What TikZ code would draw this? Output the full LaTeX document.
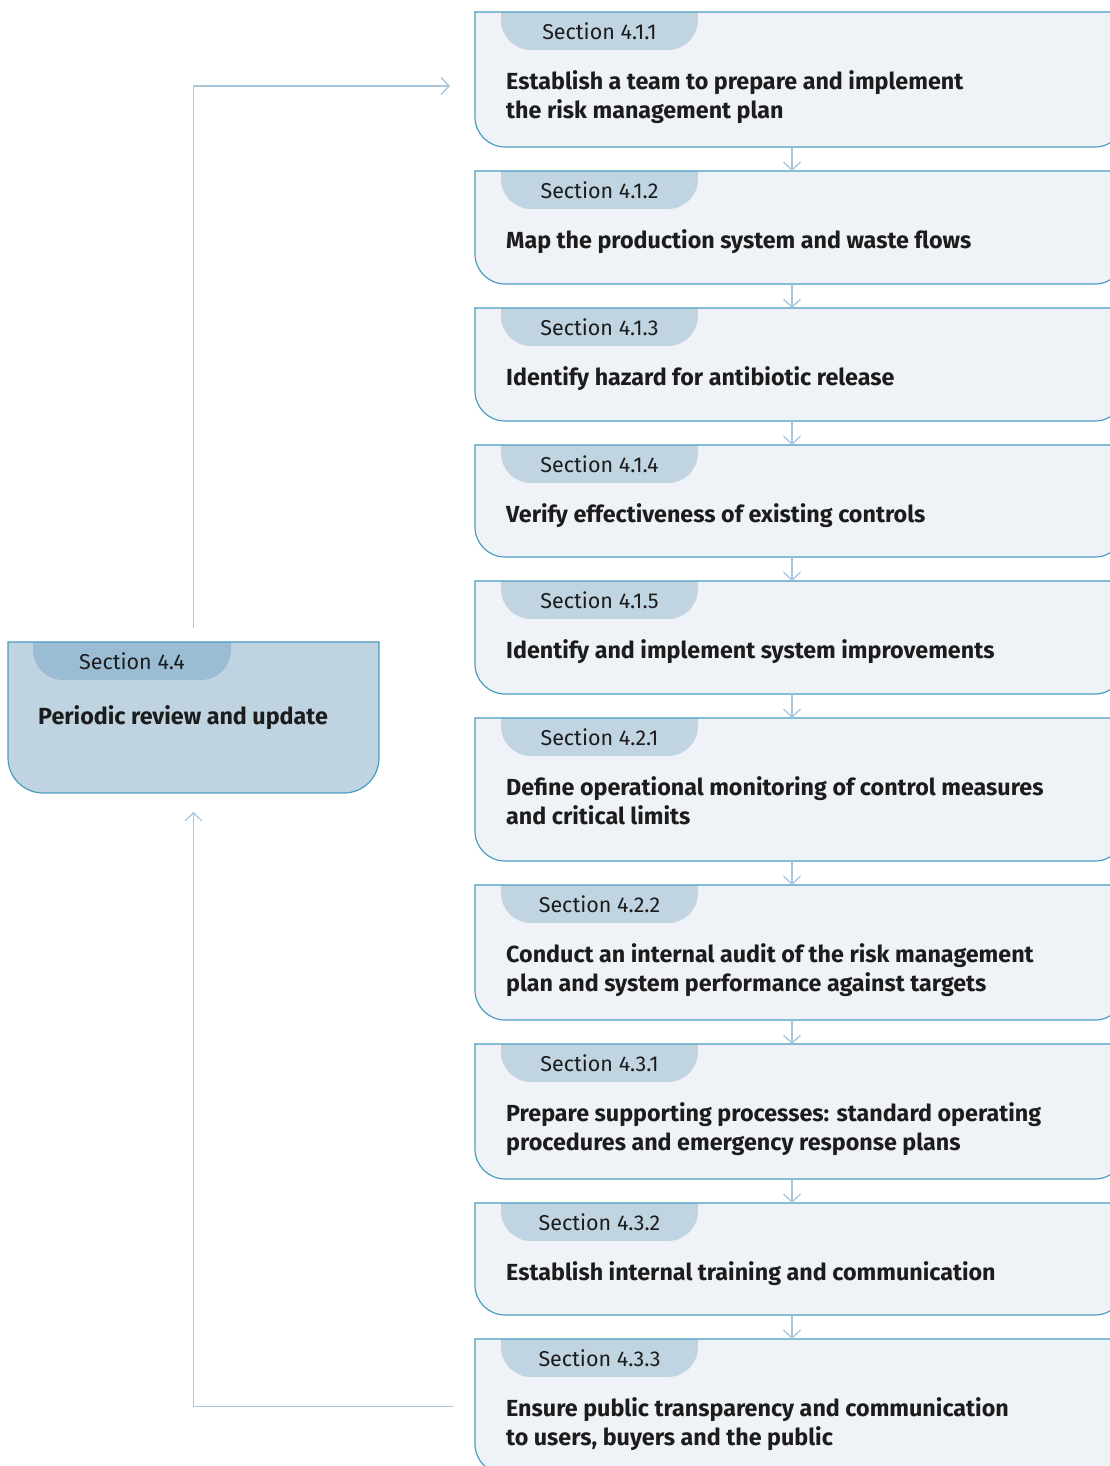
\documentclass[tikz,border=0pt]{standalone}
\usepackage{fontspec}
\setmainfont{Fira Sans}
\usetikzlibrary{calc,arrows.meta}

\definecolor{panelfill}{HTML}{EFF3F7}
\definecolor{panelline}{HTML}{4A9DBF}
\definecolor{tabfill}{HTML}{C0D4E2}
\definecolor{reviewfill}{HTML}{BFD3E1}
\definecolor{reviewtab}{HTML}{9BBDD4}
\definecolor{linkcol}{HTML}{A7C6DC}
\definecolor{ink}{HTML}{1C1C1C}

\tikzset{
  x=1pt, y=1pt,
  holder/.style={inner sep=0pt, outer sep=0pt, minimum width=#1, draw=none},
  outline/.style={draw=panelline, line width=1.2pt},
  sectiontext/.style={font=\fontsize{21.5}{24}\selectfont, text=ink, inner sep=0pt},
  titletext/.style={font=\fontsize{23.3}{29}\selectfont\bfseries, text=ink,
    inner sep=0pt, align=left, anchor=north west},
  link/.style={draw=linkcol, line width=1.3pt,
    -{Straight Barb[length=8pt,width=17pt,line width=1.3pt]}},
}

% #1 name, #2 top, #3 bottom, #4 section label, #5 title
\newcommand\stepbox[5]{%
  \node[holder=650pt, minimum height={(#3-#2)*1pt}] (#1) at (800,{1466-(#2+#3)/2}) {};
  \path[fill=panelfill] (#1.north west) -- (#1.north east)
    -- ($(#1.south east)+(0,30)$) arc[start angle=0,end angle=-90,radius=30pt]
    -- ($(#1.south west)+(30,0)$) arc[start angle=-90,end angle=-180,radius=30pt]
    -- cycle;
  \path[fill=tabfill] ($(#1.north west)+(26,0)$) -- ++(0,-8)
    arc[start angle=180,end angle=270,radius=30pt] -- ++(137,0)
    arc[start angle=-90,end angle=0,radius=30pt] -- ++(0,8) -- cycle;
  \path[outline] (#1.north east) -- (#1.north west)
    -- ($(#1.south west)+(0,30)$) arc[start angle=180,end angle=270,radius=30pt]
    -- ($(#1.south east)+(-30,0)$) arc[start angle=-90,end angle=0,radius=30pt]
    -- (#1.north east);
  \node[sectiontext] (#1-sec) at ($(#1.north west)+(124.5,-19)$) {#4};
  \node[titletext] (#1-title) at ($(#1.north west)+(31,-58)$) {#5};
}

\begin{document}
\begin{tikzpicture}
\useasboundingbox (0,0) rectangle (1109,1466);

\stepbox{s411}{12}{147}{Section 4.1.1}{Establish a team to prepare and implement\\the risk management plan}
\stepbox{s412}{171}{284}{Section 4.1.2}{Map the production system and waste flows}
\stepbox{s413}{308}{421}{Section 4.1.3}{Identify hazard for antibiotic release}
\stepbox{s414}{445}{557}{Section 4.1.4}{Verify effectiveness of existing controls}
\stepbox{s415}{581}{694}{Section 4.1.5}{Identify and implement system improvements}
\stepbox{s421}{718}{861}{Section 4.2.1}{Define operational monitoring of control measures\\and critical limits}
\stepbox{s422}{885}{1020}{Section 4.2.2}{Conduct an internal audit of the risk management\\plan and system performance against targets}
\stepbox{s431}{1044}{1179}{Section 4.3.1}{Prepare supporting processes: standard operating\\procedures and emergency response plans}
\stepbox{s432}{1203}{1315}{Section 4.3.2}{Establish internal training and communication}
\stepbox{s433}{1339}{1474}{Section 4.3.3}{Ensure public transparency and communication\\to users, buyers and the public}

% review box on the left
\node[holder=371pt, minimum height=151pt] (review) at (193.5,{1466-717.5}) {};
\path[fill=reviewfill] (review.north west) -- (review.north east)
  -- ($(review.south east)+(0,35)$) arc[start angle=0,end angle=-90,radius=35pt]
  -- ($(review.south west)+(35,0)$) arc[start angle=-90,end angle=-180,radius=35pt]
  -- cycle;
\path[fill=reviewtab] ($(review.north west)+(25,0)$) -- ++(0,-8)
  arc[start angle=180,end angle=270,radius=30pt] -- ++(138,0)
  arc[start angle=-90,end angle=0,radius=30pt] -- ++(0,8) -- cycle;
\path[outline] (review.north west) -- ($(review.south west)+(0,35)$)
  arc[start angle=180,end angle=270,radius=35pt]
  -- ($(review.south east)+(-35,0)$) arc[start angle=-90,end angle=0,radius=35pt]
  -- (review.north east) -- cycle;
\node[sectiontext] (review-sec) at ($(review.north west)+(124,-19)$) {Section 4.4};
\node[titletext] (review-title) at ($(review.north west)+(30,-63)$) {Periodic review and update};

% flow down the column
\coordinate (col) at (792,0);
\foreach \a/\b in {s411/s412,s412/s413,s413/s414,s414/s415,s415/s421,
                   s421/s422,s422/s431,s431/s432,s432/s433}
  \draw[link] (\a.south -| col) -- (\b.north -| col);

% feedback loop through the review step
\coordinate (loopin) at ($(s411.west)+(-25,-6.5)$);
\draw[link] ($(review.north)+(0,14)$) |- (loopin);
\coordinate (loopout) at ($(s433.west)+(-22,0)$);
\draw[link] (loopout) -| ($(review.south)+(0,-19)$);
\end{tikzpicture}
\end{document}
